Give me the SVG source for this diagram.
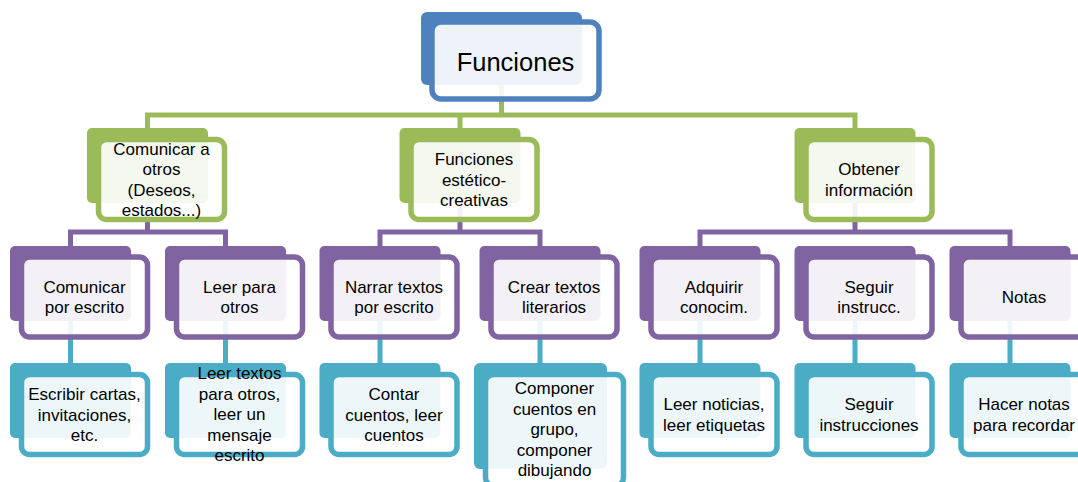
<svg xmlns="http://www.w3.org/2000/svg" width="1078" height="482" viewBox="0 0 1078 482">
<style>
.bk{stroke:none}
.fr{fill:#ffffff;fill-opacity:0.9;stroke-width:5.5}
.blue .bk{fill:#4f81bd}.blue .fr{stroke:#4f81bd}
.green .bk{fill:#9bbb59}.green .fr{stroke:#9bbb59}
.purple .bk{fill:#8064a2}.purple .fr{stroke:#8064a2}
.teal .bk{fill:#4bacc6}.teal .fr{stroke:#4bacc6}
text{font-family:"Liberation Sans",Arial,sans-serif;font-size:17px;fill:#000;text-anchor:middle}
.big{font-size:25.5px}
.c{fill:none;stroke-width:5;stroke-linejoin:miter;stroke-linecap:butt}
</style>
<rect width="1078" height="482" fill="#ffffff"/>
<g id="connectors">
<path class="c" stroke="#9bbb59" d="M501.5,85V115M147.5,128V115H855V128M460,115V128"/>
<path class="c" stroke="#8064a2" d="M147.5,203V232M70.5,246V232H225.5V246"/>
<path class="c" stroke="#8064a2" d="M460,203V232M380,246V232H540V246"/>
<path class="c" stroke="#8064a2" d="M855,203V232M700,246V232H1010V246"/>
<path class="c" stroke="#4bacc6" d="M70.5,321V363M225.5,321V363M380,321V363M540,321V363M700,321V363M855,321V363M1010,321V363"/>
</g>
<g id="n-funciones" class="blue">
<rect class="bk" x="421" y="12" width="161" height="73" rx="6"/>
<rect class="fr" x="432" y="22" width="167" height="77" rx="9"/>
<text class="big" x="515.5" y="70.5">Funciones</text>
</g>
<g id="n-comunicar-otros" class="green">
<rect class="bk" x="87" y="128" width="121" height="75" rx="5"/>
<rect class="fr" x="98.5" y="139.5" width="126" height="80" rx="8"/>
<text x="161.5"><tspan x="161.5" y="154.75">Comunicar a</tspan><tspan x="161.5" y="175.25">otros</tspan><tspan x="161.5" y="195.75">(Deseos,</tspan><tspan x="161.5" y="216.25">estados...)</tspan></text>
</g>
<g id="n-esteticas" class="green">
<rect class="bk" x="399.5" y="128" width="121" height="75" rx="5"/>
<rect class="fr" x="411" y="139.5" width="126" height="80" rx="8"/>
<text x="474"><tspan x="474" y="165">Funciones</tspan><tspan x="474" y="185.5">estético-</tspan><tspan x="474" y="206">creativas</tspan></text>
</g>
<g id="n-obtener" class="green">
<rect class="bk" x="794.5" y="128" width="121" height="75" rx="5"/>
<rect class="fr" x="806" y="139.5" width="126" height="80" rx="8"/>
<text x="869"><tspan x="869" y="175.25">Obtener</tspan><tspan x="869" y="195.75">información</tspan></text>
</g>
<g id="n-comunicar-escrito" class="purple">
<rect class="bk" x="10" y="246" width="121" height="75" rx="5"/>
<rect class="fr" x="21.5" y="257" width="126" height="80" rx="8"/>
<text x="84.5"><tspan x="84.5" y="292.75">Comunicar</tspan><tspan x="84.5" y="313.25">por escrito</tspan></text>
</g>
<g id="n-leer-otros" class="purple">
<rect class="bk" x="165" y="246" width="121" height="75" rx="5"/>
<rect class="fr" x="176.5" y="257" width="126" height="80" rx="8"/>
<text x="239.5"><tspan x="239.5" y="292.75">Leer para</tspan><tspan x="239.5" y="313.25">otros</tspan></text>
</g>
<g id="n-narrar" class="purple">
<rect class="bk" x="319.5" y="246" width="121" height="75" rx="5"/>
<rect class="fr" x="331" y="257" width="126" height="80" rx="8"/>
<text x="394"><tspan x="394" y="292.75">Narrar textos</tspan><tspan x="394" y="313.25">por escrito</tspan></text>
</g>
<g id="n-crear" class="purple">
<rect class="bk" x="479.5" y="246" width="121" height="75" rx="5"/>
<rect class="fr" x="491" y="257" width="126" height="80" rx="8"/>
<text x="554"><tspan x="554" y="292.75">Crear textos</tspan><tspan x="554" y="313.25">literarios</tspan></text>
</g>
<g id="n-adquirir" class="purple">
<rect class="bk" x="639.5" y="246" width="121" height="75" rx="5"/>
<rect class="fr" x="651" y="257" width="126" height="80" rx="8"/>
<text x="714"><tspan x="714" y="292.75">Adquirir</tspan><tspan x="714" y="313.25">conocim.</tspan></text>
</g>
<g id="n-seguir" class="purple">
<rect class="bk" x="794.5" y="246" width="121" height="75" rx="5"/>
<rect class="fr" x="806" y="257" width="126" height="80" rx="8"/>
<text x="869"><tspan x="869" y="292.75">Seguir</tspan><tspan x="869" y="313.25">instrucc.</tspan></text>
</g>
<g id="n-notas" class="purple">
<rect class="bk" x="949.5" y="246" width="121" height="75" rx="5"/>
<rect class="fr" x="961" y="257" width="126" height="80" rx="8"/>
<text x="1024" y="303">Notas</text>
</g>
<g id="n-escribir" class="teal">
<rect class="bk" x="10" y="363" width="121" height="75" rx="5"/>
<rect class="fr" x="21.5" y="374.5" width="126" height="80" rx="8"/>
<text x="84.5"><tspan x="84.5" y="400">Escribir cartas,</tspan><tspan x="84.5" y="420.5">invitaciones,</tspan><tspan x="84.5" y="441">etc.</tspan></text>
</g>
<g id="n-leer-textos" class="teal">
<rect class="bk" x="165" y="363" width="121" height="75" rx="5"/>
<rect class="fr" x="176.5" y="374.5" width="126" height="80" rx="8"/>
<text x="239.5"><tspan x="239.5" y="379">Leer textos</tspan><tspan x="239.5" y="399.5">para otros,</tspan><tspan x="239.5" y="420">leer un</tspan><tspan x="239.5" y="440.5">mensaje</tspan><tspan x="239.5" y="461">escrito</tspan></text>
</g>
<g id="n-contar" class="teal">
<rect class="bk" x="319.5" y="363" width="121" height="75" rx="5"/>
<rect class="fr" x="331" y="374.5" width="126" height="80" rx="8"/>
<text x="394"><tspan x="394" y="400">Contar</tspan><tspan x="394" y="420.5">cuentos, leer</tspan><tspan x="394" y="441">cuentos</tspan></text>
</g>
<g id="n-componer" class="teal">
<rect class="bk" x="474" y="363" width="133" height="106" rx="6"/>
<rect class="fr" x="485.5" y="374.5" width="138" height="111" rx="8"/>
<text x="554.5"><tspan x="554.5" y="394">Componer</tspan><tspan x="554.5" y="414.5">cuentos en</tspan><tspan x="554.5" y="435">grupo,</tspan><tspan x="554.5" y="455.5">componer</tspan><tspan x="554.5" y="476">dibujando</tspan></text>
</g>
<g id="n-noticias" class="teal">
<rect class="bk" x="639.5" y="363" width="121" height="75" rx="5"/>
<rect class="fr" x="651" y="374.5" width="126" height="80" rx="8"/>
<text x="714"><tspan x="714" y="410.25">Leer noticias,</tspan><tspan x="714" y="430.75">leer etiquetas</tspan></text>
</g>
<g id="n-instrucciones" class="teal">
<rect class="bk" x="794.5" y="363" width="121" height="75" rx="5"/>
<rect class="fr" x="806" y="374.5" width="126" height="80" rx="8"/>
<text x="869"><tspan x="869" y="410.25">Seguir</tspan><tspan x="869" y="430.75">instrucciones</tspan></text>
</g>
<g id="n-hacer-notas" class="teal">
<rect class="bk" x="949.5" y="363" width="121" height="75" rx="5"/>
<rect class="fr" x="961" y="374.5" width="126" height="80" rx="8"/>
<text x="1024"><tspan x="1024" y="410.25">Hacer notas</tspan><tspan x="1024" y="430.75">para recordar</tspan></text>
</g>
</svg>
